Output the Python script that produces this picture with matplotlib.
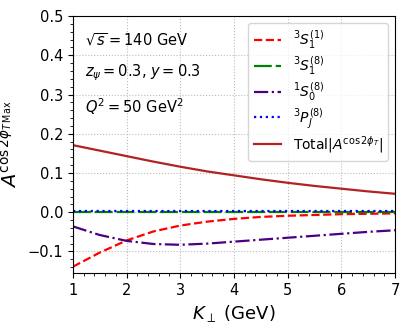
import matplotlib
matplotlib.use("Agg")
import matplotlib.pyplot as plt
from matplotlib.ticker import AutoMinorLocator

# K_perp values (GeV)
kperp = [1.0, 1.5, 2.0, 2.5, 3.0, 3.5, 4.0, 4.5, 5.0, 5.5, 6.0, 6.5, 7.0]

s1_singlet = [-0.139, -0.103, -0.072, -0.049, -0.034, -0.024, -0.017, -0.012, -0.009,
              -0.007, -0.005, -0.004, -0.003]
s1_octet = [0.001, 0.001, 0.001, 0.001, 0.001, 0.001, 0.001, 0.001, 0.001, 0.001,
            0.001, 0.001, 0.001]
s0_octet = [-0.036, -0.058, -0.073, -0.081, -0.083, -0.080, -0.075, -0.070, -0.065,
            -0.060, -0.055, -0.050, -0.046]
pj_octet = [0.002, 0.002, 0.002, 0.002, 0.002, 0.002, 0.002, 0.002, 0.002, 0.002,
            0.002, 0.002, 0.002]
total = [0.171, 0.157, 0.143, 0.129, 0.116, 0.104, 0.094, 0.084, 0.075, 0.067,
         0.060, 0.053, 0.047]

fig = plt.figure(figsize=(4.09, 3.27), dpi=100)
ax = fig.add_axes([0.178, 0.165, 0.788, 0.786])

ax.plot(kperp, s1_singlet, color='red', ls='--', lw=1.6, label=r'$^3S_1^{(1)}$')
ax.plot(kperp, s1_octet, color='green', ls=(0, (8, 1.8)), lw=1.6, label=r'$^3S_1^{(8)}$')
ax.plot(kperp, s0_octet, color='indigo', ls='-.', lw=1.6, label=r'$^1S_0^{(8)}$')
ax.plot(kperp, pj_octet, color='blue', ls=':', lw=1.6, label=r'$^3P_J^{(8)}$')
ax.plot(kperp, total, color='#b22222', ls='-', lw=1.6, label=r'Total$|A^{\cos2\phi_T}|$')

ax.set_xlim(1, 7)
ax.set_ylim(-0.155, 0.5)
ax.xaxis.set_minor_locator(AutoMinorLocator())
ax.yaxis.set_minor_locator(AutoMinorLocator())
ax.tick_params(labelsize=10.5)
ax.grid(True, ls=':', color='#bbbbbb', lw=0.8)

ax.set_xlabel(r'$K_\perp$ (GeV)', fontsize=13)
ax.set_ylabel(r'$A^{\cos2\phi_{T\,\mathrm{Max}}}$', fontsize=14)

ax.text(1.22, 0.44, r'$\sqrt{s}=140$ GeV', fontsize=10.5, va='center')
ax.text(1.22, 0.355, r'$z_\psi=0.3$, $y=0.3$', fontsize=10.5, va='center')
ax.text(1.22, 0.27, r'$Q^2=50$ GeV$^2$', fontsize=10.5, va='center')

ax.legend(loc='upper right', fontsize=10, labelspacing=0.25)

fig.savefig('out.png', dpi=100)
